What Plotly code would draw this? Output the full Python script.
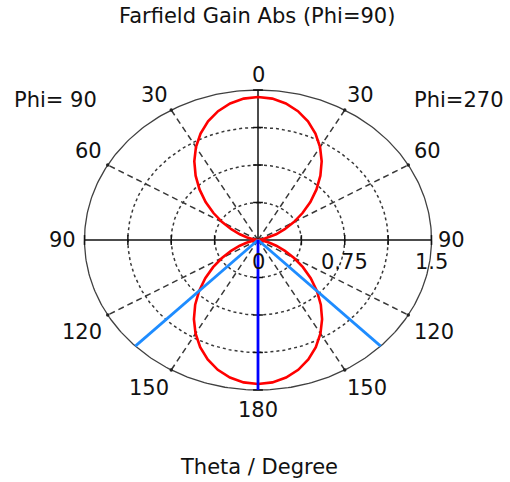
import numpy as np
import plotly.graph_objects as go

# Far-field gain (linear), theta sampled every 5 degrees from 0 to 180
theta_deg = list(range(0, 185, 5))
gain_phi270 = [1.430, 1.419, 1.387, 1.334, 1.263, 1.175, 1.073, 0.960, 0.839, 0.715,
               0.591, 0.470, 0.358, 0.255, 0.167, 0.096, 0.043, 0.011, 0.000,
               0.011, 0.043, 0.097, 0.168, 0.257, 0.360, 0.474, 0.595, 0.720,
               0.845, 0.966, 1.080, 1.183, 1.272, 1.344, 1.397, 1.429, 1.440]
gain_phi90 = [1.430, 1.419, 1.387, 1.334, 1.263, 1.175, 1.073, 0.960, 0.839, 0.715,
              0.591, 0.470, 0.358, 0.255, 0.167, 0.096, 0.043, 0.011, 0.000,
              0.011, 0.043, 0.097, 0.168, 0.257, 0.360, 0.474, 0.595, 0.720,
              0.845, 0.966, 1.080, 1.183, 1.272, 1.344, 1.397, 1.429, 1.440]

# Main lobe direction and 3 dB beamwidth markers (theta, degrees)
main_lobe_theta = 180
beam_edges_theta = [135, 225]

# Radial scale
r_max = 1.5
r_grid = [0.375, 0.75, 1.125]
r_labels = [0, 0.75, 1.5]
r_label_text = ["0", "0.75", "1.5"]

# Angular grid
spoke_angles = [30, 60, 120, 150, 210, 240, 300, 330]
angle_labels = [0, 30, 60, 90, 120, 150, 180, 150, 120, 90, 60, 30]
# placement of the angle labels around the rim (direction, radius)
label_dir = [0, 31.5, 58.7, 90, 121.2, 147.4, 180, 212.6, 238.8, 270, 301.3, 328.5]
label_rad = [1.65, 1.70, 1.715, 1.67, 1.775, 1.755, 1.70, 1.757, 1.777, 1.686, 1.718, 1.705]

title_text = "Farfield Gain Abs (Phi=90)"
left_text = "Phi= 90"
right_text = "Phi=270"
axis_title = "Theta / Degree"

W, H = 510, 482
cx, cy = 258.0, 240.0          # centre in pixels
sx, sy = 173.5 / r_max, 150.0 / r_max   # pixels per unit horizontally / vertically


def to_xy(r, th):
    t = np.radians(np.asarray(th, dtype=float))
    r = np.asarray(r, dtype=float)
    return r * np.sin(t), r * np.cos(t)


fig = go.Figure()
grid_col = "#383838"
text_col = "#111111"
font = dict(family="DejaVu Sans", size=21, color=text_col)

full = np.linspace(0, 360, 361)

# dotted grid circles
for rg in r_grid:
    x, y = to_xy(np.full_like(full, rg), full)
    fig.add_trace(go.Scatter(x=x, y=y, mode="lines",
                             line=dict(color=grid_col, width=1.5, dash="3px,3px"),
                             hoverinfo="skip", showlegend=False))

# dashed spokes
for a in spoke_angles:
    x, y = to_xy([0, r_max], [a, a])
    fig.add_trace(go.Scatter(x=x, y=y, mode="lines",
                             line=dict(color=grid_col, width=1.5, dash="6px,4px"),
                             hoverinfo="skip", showlegend=False))

# outer boundary
x, y = to_xy(np.full_like(full, r_max), full)
fig.add_trace(go.Scatter(x=x, y=y, mode="lines",
                         line=dict(color="#404040", width=1.3),
                         hoverinfo="skip", showlegend=False))
# small marks where the spokes meet the rim
x, y = to_xy(np.full(len(spoke_angles), r_max), spoke_angles)
fig.add_trace(go.Scatter(x=x, y=y, mode="markers",
                         marker=dict(symbol="circle", size=3.5, color="#222222"),
                         hoverinfo="skip", showlegend=False))

# main axes
fig.add_trace(go.Scatter(x=[-r_max, r_max], y=[0, 0], mode="lines",
                         line=dict(color="#111111", width=1.5),
                         hoverinfo="skip", showlegend=False))
fig.add_trace(go.Scatter(x=[0, 0], y=[-r_max, r_max], mode="lines",
                         line=dict(color="#111111", width=1.5),
                         hoverinfo="skip", showlegend=False))

# axis ticks
tick_r = [-r_max] + [-v for v in r_grid[::-1]] + r_grid + [r_max]
fig.add_trace(go.Scatter(x=tick_r, y=[0] * len(tick_r), mode="markers",
                         marker=dict(symbol="line-ns", size=7,
                                     line=dict(color="#111111", width=1.5)),
                         hoverinfo="skip", showlegend=False))
fig.add_trace(go.Scatter(x=[0] * len(tick_r), y=tick_r, mode="markers",
                         marker=dict(symbol="line-ew", size=7,
                                     line=dict(color="#111111", width=1.5)),
                         hoverinfo="skip", showlegend=False))

# gain pattern: Phi=270 on the right half, Phi=90 mirrored on the left half
th_all = theta_deg + [360 - t for t in theta_deg[::-1]]
g_all = gain_phi270 + gain_phi90[::-1]
x, y = to_xy(g_all, th_all)
fig.add_trace(go.Scatter(x=x, y=y, mode="lines",
                         line=dict(color="#ff0000", width=2.6),
                         hoverinfo="skip", showlegend=False))

# beamwidth and main lobe lines
for a in beam_edges_theta:
    x, y = to_xy([0, r_max], [a, a])
    fig.add_trace(go.Scatter(x=x, y=y, mode="lines",
                             line=dict(color="#1e8cff", width=2.8),
                             hoverinfo="skip", showlegend=False))
x, y = to_xy([0, r_max], [main_lobe_theta, main_lobe_theta])
fig.add_trace(go.Scatter(x=x, y=y, mode="lines",
                         line=dict(color="#0000ff", width=2.8),
                         hoverinfo="skip", showlegend=False))

annotations = []
# angle labels
for lab, d, rr in zip(angle_labels, label_dir, label_rad):
    lx, ly = to_xy(rr, d)
    annotations.append(dict(x=float(lx), y=float(ly), text=str(lab), showarrow=False,
                            font=font, xanchor="center", yanchor="middle"))
# radial labels
for v, t in zip(r_labels, r_label_text):
    annotations.append(dict(x=v, y=-0.22, text=t, showarrow=False, font=font,
                            xanchor="center", yanchor="middle"))

annotations.append(dict(x=(257 - cx) / sx, y=(cy - 16) / sy, text=title_text,
                        showarrow=False, font=font, xanchor="center", yanchor="middle"))
annotations.append(dict(x=(12 - cx) / sx, y=(cy - 100) / sy, text=left_text,
                        showarrow=False, font=font, xanchor="left", yanchor="middle"))
annotations.append(dict(x=(506 - cx) / sx, y=(cy - 100) / sy, text=right_text,
                        showarrow=False, font=font, xanchor="right", yanchor="middle"))
annotations.append(dict(x=(259 - cx) / sx, y=(cy - 467) / sy, text=axis_title,
                        showarrow=False, font=font, xanchor="center", yanchor="middle"))

fig.update_layout(
    width=W, height=H, autosize=False,
    margin=dict(l=0, r=0, t=0, b=0),
    paper_bgcolor="white", plot_bgcolor="white",
    xaxis=dict(range=[-cx / sx, (W - cx) / sx], visible=False, fixedrange=True),
    yaxis=dict(range=[-(H - cy) / sy, cy / sy], visible=False, fixedrange=True),
    annotations=annotations,
    showlegend=False,
)

fig.write_html("out.html")
